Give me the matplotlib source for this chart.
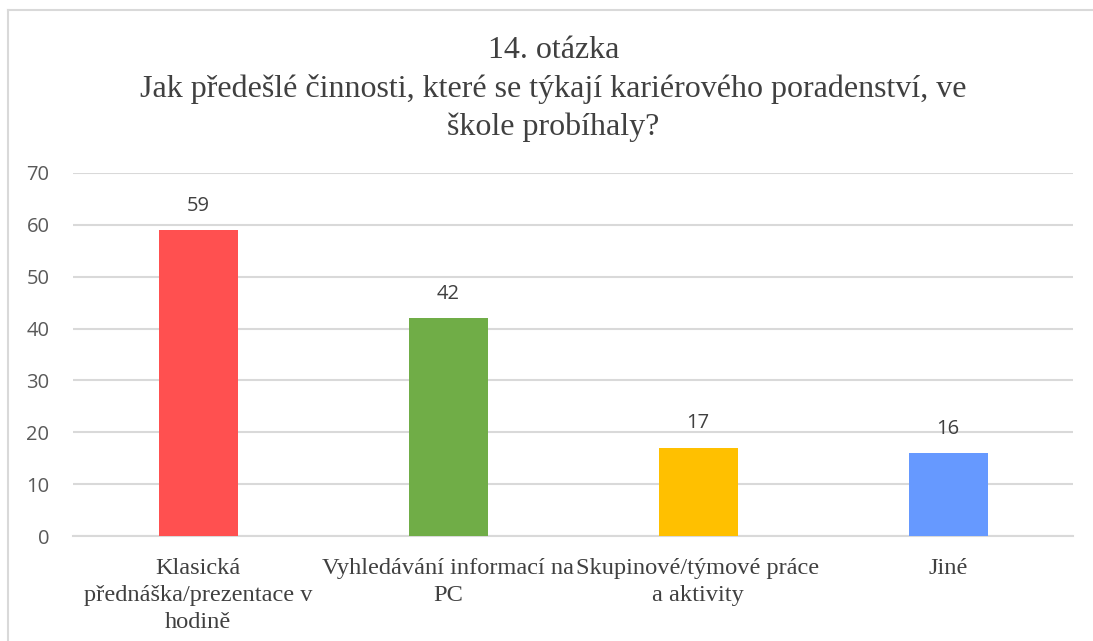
import matplotlib
matplotlib.use("Agg")
import matplotlib.pyplot as plt
from matplotlib.lines import Line2D

categories = ["Klasická\npřednáška/prezentace v\nhodině",
              "Vyhledávání informací na\nPC",
              "Skupinové/týmové práce\na aktivity",
              "Jiné"]
values = [59, 42, 17, 16]
colors = ["#FF5050", "#70AD47", "#FFC000", "#6699FF"]
yticks = [0, 10, 20, 30, 40, 50, 60, 70]
title = "14. otázka\nJak předešlé činnosti, které se týkají kariérového poradenství, ve\nškole probíhaly?"

W, H = 1093, 641
fig = plt.figure(figsize=(W / 100, H / 100), dpi=100)
ax = fig.add_axes([73 / W, 1 - 536 / H, 1000 / W, (536 - 173) / H])

x = list(range(len(categories)))
bars = ax.bar(x, values, width=0.316, color=colors, zorder=3)
for xi, v in zip(x, values):
    ax.text(xi, v + 4.7, str(v), ha="center", va="center",
            fontsize=14.5, color="#404040", family="Open Sans")

ax.set_xlim(-0.5, len(categories) - 0.5)
ax.set_ylim(0, 70)
ax.set_yticks(yticks)
ax.set_yticklabels([str(t) for t in yticks], fontsize=14.5, color="#595959",
                   family="Open Sans")
ax.set_xticks(x)
ax.set_xticklabels(categories, fontsize=17.6, color="#404040",
                   family="Liberation Serif", linespacing=1.38)
ax.tick_params(axis="both", length=0)
ax.tick_params(axis="x", pad=16)
ax.tick_params(axis="y", pad=17)
ax.grid(axis="y", color="#D9D9D9", linewidth=1.5, zorder=0)
for s in ["top", "right", "left"]:
    ax.spines[s].set_visible(False)
ax.spines["bottom"].set_color("#D9D9D9")
ax.spines["bottom"].set_linewidth(1.5)

fig.text(0.5 + (7 / W), 1 - 36 / H, title, ha="center", va="top",
         fontsize=23, color="#404040", family="Liberation Serif",
         linespacing=1.38)

# chart border
fig.add_artist(Line2D([8 / W, 8 / W], [0, 1 - 10 / H], color="#D9D9D9",
                      linewidth=1.5, transform=fig.transFigure))
fig.add_artist(Line2D([8 / W, 1], [1 - 10 / H, 1 - 10 / H], color="#D9D9D9",
                      linewidth=1.5, transform=fig.transFigure))

fig.savefig("out.png", dpi=100)
